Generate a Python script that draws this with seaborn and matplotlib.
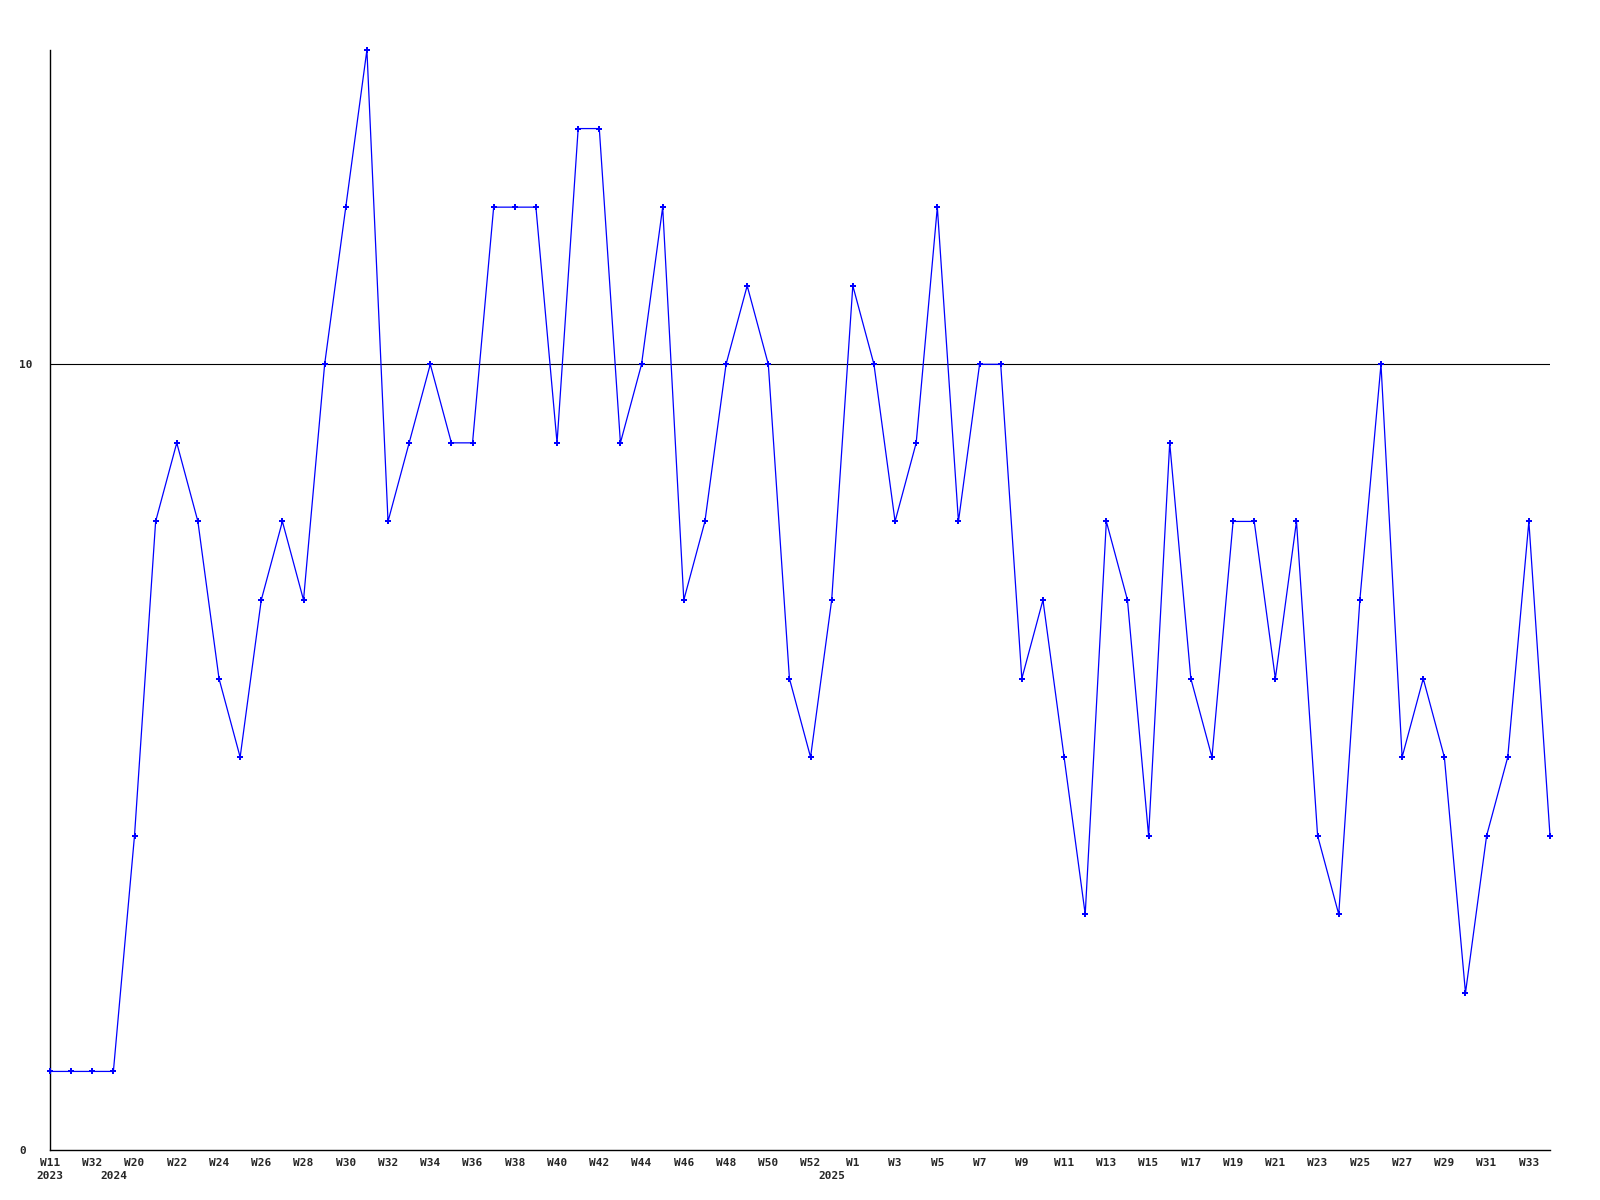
import matplotlib

matplotlib.use("Agg")
import matplotlib.pyplot as plt
import numpy as np
import pandas as pd
import seaborn as sns


# weekly counts, one point per week (oldest first)
counts = [
    1, 1, 1, 1, 4, 8, 9, 8, 6, 5, 7, 8, 7, 10, 12, 14, 8, 9, 10, 9,
    9, 12, 12, 12, 9, 13, 13, 9, 10, 12, 7, 8, 10, 11, 10, 6, 5, 7, 11, 10,
    8, 9, 12, 8, 10, 10, 6, 7, 5, 3, 8, 7, 4, 9, 6, 5, 8, 8, 6, 8,
    4, 3, 7, 10, 5, 6, 5, 2, 4, 5, 8, 4,
]

# week label under each point ("" = not printed)
week_labels = [
    "W11", "", "W32", "", "W20", "", "W22", "", "W24", "", "W26", "", "W28", "",
    "W30", "", "W32", "", "W34", "", "W36", "", "W38", "", "W40", "", "W42", "",
    "W44", "", "W46", "", "W48", "", "W50", "", "W52", "", "W1", "", "W3", "",
    "W5", "", "W7", "", "W9", "", "W11", "", "W13", "", "W15", "", "W17", "",
    "W19", "", "W21", "", "W23", "", "W25", "", "W27", "", "W29", "", "W31", "",
    "W33", "",
]

# year label under the first point of each year
year_labels = {0: "2023", 3: "2024", 37: "2025"}

y_ticks = [0, 10]
y_max = 14


def main() -> None:
    df = pd.DataFrame({"week": np.arange(len(counts)), "count": counts})

    sns.set_style("white")
    plt.rcParams["font.family"] = ["DejaVu Sans Mono", "DejaVu Sans"]

    fig = plt.figure(figsize=(16, 12), dpi=100)
    ax = fig.add_axes([50 / 1600, 50 / 1200, 1500 / 1600, 1100 / 1200])

    ax.axhline(10, color="black", linewidth=0.8, zorder=1)
    sns.lineplot(
        data=df,
        x="week",
        y="count",
        color="#0000ff",
        linewidth=0.9,
        marker="P",
        markersize=4.5,
        markeredgewidth=0,
        ax=ax,
        zorder=3,
        clip_on=False,
    )

    ax.set_xlim(0, len(counts) - 1)
    ax.set_ylim(0, y_max)

    tick_text = []
    for i, lab in enumerate(week_labels):
        yr = year_labels.get(i)
        tick_text.append(f"{lab}\n{yr}" if yr else lab)
    ax.set_xticks(df["week"])
    ax.set_xticklabels(tick_text, fontsize=8, fontweight="bold", linespacing=1.3)
    ax.tick_params(axis="x", length=0, pad=6)

    ax.set_yticks(y_ticks)
    ax.set_yticklabels([str(t) for t in y_ticks], fontsize=8, fontweight="bold", ha="left")
    ax.tick_params(axis="y", length=0, pad=22)

    ax.set_xlabel("")
    ax.set_ylabel("")
    ax.grid(False)
    for side in ("top", "right"):
        ax.spines[side].set_visible(False)
    for side in ("left", "bottom"):
        ax.spines[side].set_color("black")
        ax.spines[side].set_linewidth(1.0)

    fig.savefig("out.png", dpi=100)
    plt.close(fig)


if __name__ == "__main__":
    main()
